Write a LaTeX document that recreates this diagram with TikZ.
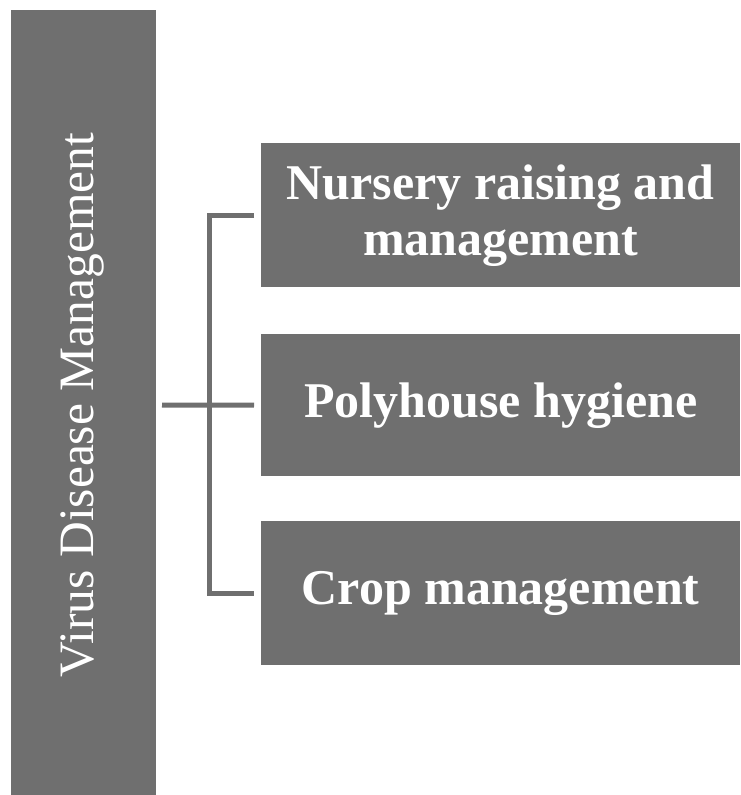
\documentclass[tikz,border=0pt]{standalone}
\usepackage{fontspec}
\setmainfont{Liberation Serif}
\definecolor{boxgray}{HTML}{6F6F6F}
\begin{document}
\begin{tikzpicture}[x=1pt,y=-1pt,
  bar/.style={fill=boxgray,draw=none,inner sep=0pt,anchor=north west},
  item/.style={fill=boxgray,draw=none,inner sep=0pt,anchor=north west,minimum width=479pt,minimum height=144pt,text=white,font=\fontsize{50}{56}\selectfont\bfseries,align=center},
  conn/.style={draw=boxgray,line width=5pt}]
\useasboundingbox (0,0) rectangle (740,795);
\node[bar,minimum width=145pt,minimum height=785pt] (main) at (11,10) {};
\node[text=white,rotate=90,font=\fontsize{49.5}{55}\selectfont] (mainlabel) at (82,405) {Virus Disease Management};
\node[item] (b1) at (261,143) {Nursery raising and\\management};
\node[item,minimum height=142pt] (b2) at (261,334) {Polyhouse hygiene};
\node[item] (b3) at (261,521) {Crop management};
\coordinate (m) at (162,405);
\coordinate (s) at (209,405);
\draw[conn] (m) -- ([xshift=-7pt]b2.west);
\draw[conn] ([xshift=-7pt]b1.west) -| (s |- b1.west) -- (s |- b3.west) -- ([xshift=-7pt]b3.west);
\end{tikzpicture}
\end{document}
